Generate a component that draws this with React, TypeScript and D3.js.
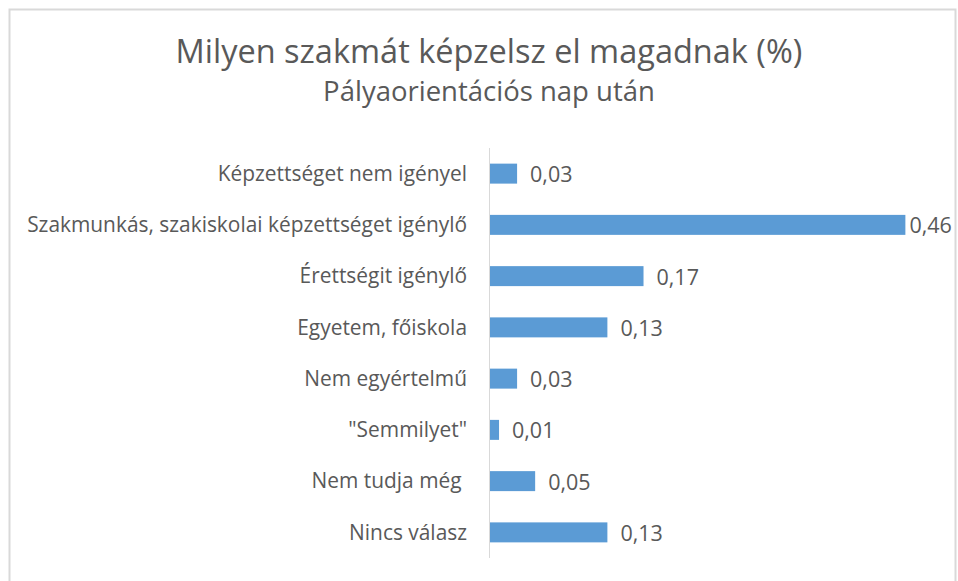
import React, { useRef, useEffect } from 'react'
import * as d3 from 'd3'

const categories = [
  'Képzettséget nem igényel',
  'Szakmunkás, szakiskolai képzettséget igénylő',
  'Érettségit igénylő',
  'Egyetem, főiskola',
  'Nem egyértelmű',
  '"Semmilyet"',
  'Nem tudja még ',
  'Nincs válasz',
]
const values = [0.03, 0.46, 0.17, 0.13, 0.03, 0.01, 0.05, 0.13]

const title = 'Milyen szakmát képzelsz el magadnak (%)'
const subtitle = 'Pályaorientációs nap után'

const W = 958
const H = 581
const FONT = '"Open Sans", "Noto Sans", sans-serif'
const TEXT = '#595959'

const App = () => {
  const chartRef = useRef<SVGSVGElement>(null)

  useEffect(() => {
    const svg = d3.select(chartRef.current)
    svg.selectAll('*').remove()

    const plot = { left: 490, right: 941.5, top: 148, bottom: 558 }
    const x = d3.scaleLinear().domain([0, 0.5]).range([plot.left, plot.right])
    const y = d3
      .scaleBand<string>()
      .domain(categories)
      .range([plot.top, plot.bottom])
      .paddingInner(0.61)
      .paddingOuter(0.305)
    const fmt = d3.formatLocale({ decimal: ',', thousands: ' ', grouping: [3], currency: ['', ''] }).format('.2f')

    // chart frame
    svg
      .append('rect')
      .attr('x', 9.5)
      .attr('y', 9.5)
      .attr('width', 946)
      .attr('height', 620)
      .attr('fill', '#fff')
      .attr('stroke', '#d9d9d9')
      .attr('stroke-width', 2)

    // titles
    svg
      .append('text')
      .attr('x', W / 2 + 10)
      .attr('y', 63)
      .attr('text-anchor', 'middle')
      .attr('font-family', FONT)
      .attr('font-size', 32.5)
      .attr('fill', TEXT)
      .text(title)
    svg
      .append('text')
      .attr('x', W / 2 + 10)
      .attr('y', 101)
      .attr('text-anchor', 'middle')
      .attr('font-family', FONT)
      .attr('font-size', 27.5)
      .attr('fill', TEXT)
      .text(subtitle)

    // bars
    svg
      .append('g')
      .selectAll('rect')
      .data(values)
      .join('rect')
      .attr('x', x(0))
      .attr('y', (d, i) => y(categories[i]) as number)
      .attr('width', (d) => x(d) - x(0))
      .attr('height', y.bandwidth())
      .attr('fill', '#5b9bd5')

    // category axis
    svg
      .append('line')
      .attr('x1', x(0) - 0.5)
      .attr('x2', x(0) - 0.5)
      .attr('y1', plot.top)
      .attr('y2', plot.bottom)
      .attr('stroke', '#d9d9d9')
      .attr('stroke-width', 1)

    svg
      .append('g')
      .selectAll('text')
      .data(categories)
      .join('text')
      .attr('x', x(0) - 23)
      .attr('y', (d) => (y(d) as number) + y.bandwidth() / 2)
      .attr('dy', '0.35em')
      .attr('text-anchor', 'end')
      .attr('font-family', FONT)
      .attr('font-size', 20.9)
      .attr('fill', TEXT)
      .style('white-space', 'pre')
      .text((d) => d)

    // value labels
    svg
      .append('g')
      .selectAll('text')
      .data(values)
      .join('text')
      .attr('y', (d, i) => (y(categories[i]) as number) + y.bandwidth() / 2)
      .attr('dy', '0.4em')
      .attr('font-family', FONT)
      .attr('font-size', 21.5)
      .attr('fill', TEXT)
      .text((d) => fmt(d))
      .attr('x', function (d) {
        const w = (this as SVGTextElement).getComputedTextLength()
        const lx = x(d) + 13
        return lx + w > 955 ? x(d) + 4 : lx
      })
  }, [])

  return (
    <svg
      ref={chartRef}
      width={W}
      height={H}
      style={{ position: 'absolute', left: 0, top: 0, display: 'block' }}
    />
  )
}

export default App
